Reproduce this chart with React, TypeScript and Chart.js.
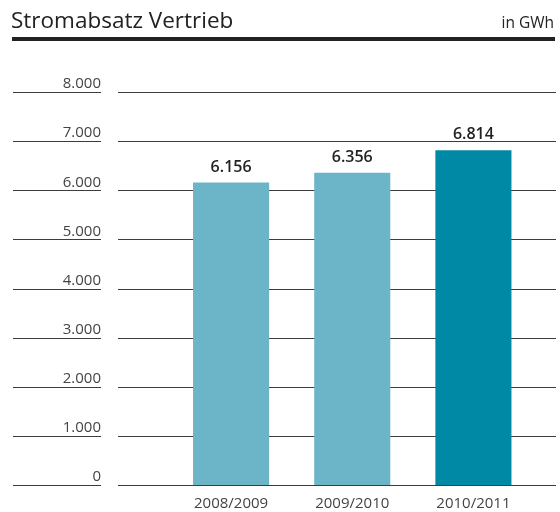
import React, { useEffect, useRef } from "react";
import { Chart, registerables } from "chart.js";

Chart.register(...registerables);

const title = "Stromabsatz Vertrieb";
const unitLabel = "in GWh";
const categories = ["2008/2009", "2009/2010", "2010/2011"];
const salesGWh = [6156, 6356, 6814];
const barColors = ["#6CB5C9", "#6CB5C9", "#0089A5"];
const yTickValues = [0, 1000, 2000, 3000, 4000, 5000, 6000, 7000, 8000];

const FONT = "'Open Sans', 'DejaVu Sans', sans-serif";

const fmt = (v: number) => {
  const s = String(Math.round(v));
  return s.replace(/\B(?=(\d{3})+(?!\d))/g, ".");
};

const decorPlugin = {
  id: "decor",
  beforeDraw(chart: any) {
    const ctx = chart.ctx;
    ctx.save();
    // header
    ctx.fillStyle = "#222";
    ctx.textBaseline = "alphabetic";
    ctx.textAlign = "left";
    ctx.font = `22.5px ${FONT}`;
    ctx.fillText(title, 11, 28);
    ctx.textAlign = "right";
    ctx.font = `15.5px ${FONT}`;
    ctx.fillText(unitLabel, 554, 28);
    ctx.fillStyle = "#222";
    ctx.fillRect(12, 37, 543, 4);
    // grid lines
    const y = chart.scales.y;
    ctx.strokeStyle = "#3c3c3c";
    ctx.lineWidth = 1;
    y.ticks.forEach((t: any) => {
      const py = Math.round(y.getPixelForValue(t.value)) + 0.5;
      ctx.beginPath();
      ctx.moveTo(13, py);
      ctx.lineTo(101, py);
      ctx.moveTo(118, py);
      ctx.lineTo(556, py);
      ctx.stroke();
    });
    ctx.restore();
  },
  afterDatasetsDraw(chart: any) {
    const ctx = chart.ctx;
    const meta = chart.getDatasetMeta(0);
    ctx.save();
    ctx.fillStyle = "#222";
    ctx.font = `600 16px ${FONT}`;
    ctx.textAlign = "center";
    ctx.textBaseline = "alphabetic";
    meta.data.forEach((el: any, i: number) => {
      ctx.fillText(fmt(salesGWh[i]), el.x, el.y - 11);
    });
    ctx.restore();
  },
};

export default function App() {
  const ref = useRef<HTMLCanvasElement | null>(null);
  useEffect(() => {
    if (!ref.current) return;
    const chart = new Chart(ref.current, {
      type: "bar",
      data: {
        labels: categories,
        datasets: [
          {
            data: salesGWh,
            backgroundColor: barColors,
            borderWidth: 0,
            categoryPercentage: 1,
            barPercentage: 0.628,
          },
        ],
      },
      options: {
        animation: false,
        responsive: false,
        layout: { padding: { left: 0, right: 26, top: 92, bottom: 0 } },
        plugins: {
          legend: { display: false },
          tooltip: { enabled: false },
          title: { display: false },
        },
        scales: {
          x: {
            grid: { display: false, drawTicks: false },
            border: { display: false },
            ticks: {
              color: "#444",
              font: { family: FONT, size: 15 },
              padding: 10,
              maxRotation: 0,
            },
            afterFit: (s: any) => {
              s.height = 27;
              s.paddingLeft = 0;
              s.paddingRight = 0;
            },
          },
          y: {
            min: 0,
            max: 8000,
            grid: { display: false, drawTicks: false },
            border: { display: false },
            afterBuildTicks: (s: any) => {
              s.ticks = yTickValues.map((v) => ({ value: v }));
            },
            ticks: {
              color: "#444",
              font: { family: FONT, size: 15 },
              padding: 69.5,
              labelOffset: -8,
              callback: (v: any) => fmt(Number(v)),
            },
            afterFit: (s: any) => {
              s.width = 170.5;
              s.paddingTop = 0;
              s.paddingBottom = 0;
            },
          },
        },
      },
      plugins: [decorPlugin],
    });
    return () => chart.destroy();
  }, []);
  return (
    <div style={{ position: "absolute", left: 0, top: 0, width: 560, height: 512, background: "#fff" }}>
      <canvas ref={ref} width={560} height={512} />
    </div>
  );
}
